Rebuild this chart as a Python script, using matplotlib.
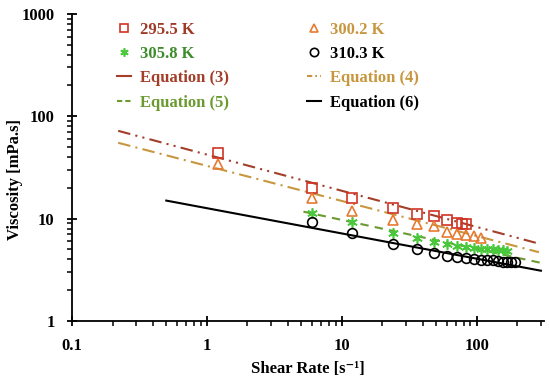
import numpy as np
import matplotlib
matplotlib.use('Agg')
import matplotlib.pyplot as plt
from matplotlib.ticker import LogLocator, FuncFormatter, NullFormatter
from matplotlib.lines import Line2D

plt.rcParams['font.family'] = ['Liberation Serif', 'DejaVu Serif']
plt.rcParams['font.weight'] = 'bold'

# measured data (shear rate [1/s], viscosity [mPa.s])
rate_2955 = [1.2, 6, 12, 24, 36, 48, 60, 72, 78, 84]
visc_2955 = [44, 20, 16, 12.6, 11.2, 10.5, 9.6, 9.0, 8.9, 8.9]

rate_3002 = [1.2, 6, 12, 24, 36, 48, 60, 72, 84, 96, 108]
visc_3002 = [34, 16, 12, 9.8, 8.8, 8.4, 7.4, 7.1, 6.9, 6.7, 6.5]

rate_3058 = [6, 12, 24, 36, 48, 60, 72, 84, 96, 108, 120, 132, 144, 156, 168]
visc_3058 = [11.4, 9.2, 7.3, 6.4, 5.9, 5.6, 5.4, 5.3, 5.2, 5.1, 5.0, 5.0, 4.9, 4.9, 4.8]

rate_3103 = [6, 12, 24, 36, 48, 60, 72, 84, 96, 108, 120, 132, 144, 156, 168, 180, 192]
visc_3103 = [9.2, 7.3, 5.6, 5.0, 4.6, 4.35, 4.2, 4.1, 4.0, 3.95, 3.9, 3.9, 3.85, 3.8, 3.8, 3.8, 3.8]

# power-law fits, end points (straight lines on log-log)
eq3_x, eq3_y = [0.22, 290], [72, 5.7]
eq4_x, eq4_y = [0.22, 290], [55, 4.7]
eq5_x, eq5_y = [5.2, 300], [11.7, 3.7]
eq6_x, eq6_y = [0.5, 300], [15, 3.1]

c_sq, c_sq_txt, c_eq3 = '#D03525', '#A03A28', '#A33E28'
c_tri, c_tri_txt = '#E57A30', '#C8963E'
c_ast, c_ast_txt, c_eq5 = '#48C83A', '#3C8C2A', '#6A9A30'

fig = plt.figure(figsize=(5.5, 3.84), dpi=100)
ax = fig.add_axes([0.131, 0.164, 0.858, 0.8])

ax.plot(eq3_x, eq3_y, color=c_eq3, lw=1.5, dashes=(6, 2.5, 1, 2.5, 1, 2.5))
ax.plot(eq4_x, eq4_y, color=c_tri_txt, lw=1.5, dashes=(6, 2.5, 1, 2.5))
ax.plot(eq5_x, eq5_y, color=c_eq5, lw=1.5, dashes=(4, 3))
ax.plot(eq6_x, eq6_y, color='black', lw=1.5)

ax.plot(rate_2955, visc_2955, 's', ms=7, mfc='none', mec=c_sq, mew=1.2)
ax.plot(rate_3002, visc_3002, '^', ms=7, mfc='none', mec=c_tri, mew=1.2)
ax.plot(rate_3058, visc_3058, marker=(6, 2, 0), ls='none', ms=7.5, mec=c_ast, mew=1.2)
ax.plot(rate_3103, visc_3103, 'o', ms=7, mfc='none', mec='black', mew=1.2)

ax.set_xscale('log')
ax.set_yscale('log')
ax.set_xlim(0.1, 316)
ax.set_ylim(1, 1000)

fmt = FuncFormatter(lambda v, p: '%g' % v)
for axis in (ax.xaxis, ax.yaxis):
    axis.set_major_locator(LogLocator(base=10, numticks=10))
    axis.set_minor_locator(LogLocator(base=10, subs=np.arange(2, 10), numticks=20))
    axis.set_major_formatter(fmt)
    axis.set_minor_formatter(NullFormatter())

ax.tick_params(which='major', direction='inout', length=7, width=1.3, labelsize=12, pad=9)
ax.tick_params(which='minor', direction='out', length=3.5, width=1.1)
ax.spines['top'].set_visible(False)
ax.spines['right'].set_visible(False)
for s in ('left', 'bottom'):
    ax.spines[s].set_linewidth(1.3)

ax.set_xlabel('Shear Rate [s⁻¹]', fontsize=12, fontweight='bold', labelpad=5)
ax.set_ylabel('Viscosity [mPa.s]', fontsize=12, fontweight='bold', labelpad=4)
ax.yaxis.set_label_coords(-0.103, 0.46)

# legend, two columns
h_sq = Line2D([], [], marker='s', ls='none', ms=6, mfc='none', mec=c_sq, mew=1.2)
h_ast = Line2D([], [], marker=(6, 2, 0), ls='none', ms=6, mec=c_ast, mew=1.2)
h_eq3 = Line2D([], [], color=c_eq3, lw=1.5)
h_eq5 = Line2D([], [], color=c_eq5, lw=1.5, dashes=(2.5, 1.5))
h_tri = Line2D([], [], marker='^', ls='none', ms=6, mfc='none', mec=c_tri, mew=1.2)
h_cir = Line2D([], [], marker='o', ls='none', ms=6, mfc='none', mec='black', mew=1.2)
h_eq4 = Line2D([], [], color=c_tri_txt, lw=1.5, dashes=(2.5, 1.5, 0.8, 1.5))
h_eq6 = Line2D([], [], color='black', lw=1.5)

kw = dict(loc='upper left', frameon=False, fontsize=12, handlelength=0.85,
          handletextpad=0.55, labelspacing=0.5, borderpad=0, borderaxespad=0)
leg1 = fig.legend([h_sq, h_ast, h_eq3, h_eq5],
                  ['295.5 K', '305.8 K', 'Equation (3)', 'Equation (5)'],
                  bbox_to_anchor=(0.2127, 0.944), **kw)
for t, c in zip(leg1.get_texts(), [c_sq_txt, c_ast_txt, c_eq3, c_eq5]):
    t.set_color(c)
leg2 = fig.legend([h_tri, h_cir, h_eq4, h_eq6],
                  ['300.2 K', '310.3 K', 'Equation (4)', 'Equation (6)'],
                  bbox_to_anchor=(0.558, 0.944), **kw)
for t, c in zip(leg2.get_texts(), [c_tri_txt, 'black', c_tri_txt, 'black']):
    t.set_color(c)

fig.savefig('out.png', dpi=100)
